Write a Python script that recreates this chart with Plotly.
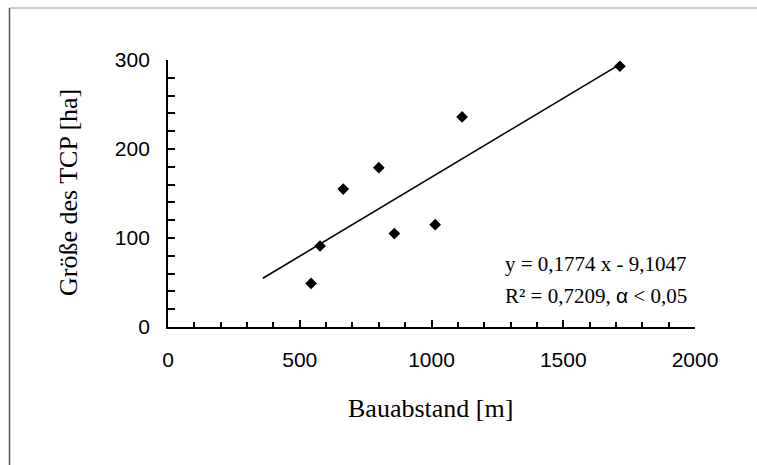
import plotly.graph_objects as go

# Data
bauabstand_m = [543, 577, 665, 800, 859, 1014, 1116, 1715]
groesse_ha = [49, 91, 155, 179, 105, 115, 236, 293]

slope = 0.1774
intercept = -9.1047
trend_x = [360, 1715]
trend_y = [slope * v + intercept for v in trend_x]

x_ticks = [0, 500, 1000, 1500, 2000]
y_ticks = [0, 100, 200, 300]

# Layout in pixels
W, H = 757, 465
L, R, T, B = 168, 62, 60, 138
pw = W - L - R
ph = H - T - B


def px2paper_x(px):
    return (px - L) / pw


def px2paper_y(py):
    return (H - B - py) / ph


fig = go.Figure()
fig.add_trace(go.Scatter(x=trend_x, y=trend_y, mode="lines",
                         line=dict(color="black", width=1.6),
                         hoverinfo="skip", showlegend=False, cliponaxis=False))
fig.add_trace(go.Scatter(x=bauabstand_m, y=groesse_ha, mode="markers",
                         marker=dict(symbol="diamond", size=9, color="black"),
                         showlegend=False, cliponaxis=False))

tickfont = dict(family="Liberation Sans, Arial", size=21, color="black")
serif = "Liberation Serif, Times New Roman"

fig.update_layout(
    width=W, height=H,
    margin=dict(l=L, r=R, t=T, b=B),
    paper_bgcolor="white", plot_bgcolor="white",
    xaxis=dict(range=[0, 2000], tickvals=x_ticks, ticks="inside", ticklen=7,
               tickwidth=1.8, tickcolor="black", showline=True, linecolor="black",
               linewidth=1.8, showgrid=False, zeroline=False, tickfont=tickfont,
               ticklabelstandoff=13,
               minor=dict(dtick=100, ticks="inside", ticklen=5, tickwidth=1.5,
                          tickcolor="black", showgrid=False)),
    yaxis=dict(range=[0, 300], tickvals=y_ticks, ticks="inside", ticklen=7,
               tickwidth=1.8, tickcolor="black", showline=True, linecolor="black",
               linewidth=1.8, showgrid=False, zeroline=False, tickfont=tickfont,
               ticklabelstandoff=12,
               minor=dict(dtick=20, ticks="inside", ticklen=7, tickwidth=1.5,
                          tickcolor="black", showgrid=False)),
    annotations=[
        dict(text="Bauabstand [m]", xref="paper", yref="paper",
             x=px2paper_x(430), y=px2paper_y(408), xanchor="center", yanchor="middle",
             showarrow=False, font=dict(family=serif, size=26, color="black")),
        dict(text="Größe des TCP [ha]", xref="paper", yref="paper",
             x=px2paper_x(68), y=px2paper_y(193), xanchor="center", yanchor="middle",
             textangle=-90, showarrow=False,
             font=dict(family=serif, size=26, color="black")),
        dict(text="y = 0,1774 x - 9,1047", xref="paper", yref="paper",
             x=px2paper_x(503), y=px2paper_y(264), xanchor="left", yanchor="middle",
             showarrow=False, font=dict(family=serif, size=21, color="black")),
        dict(text="R² = 0,7209, <span style='font-family:Liberation Sans'>α</span> < 0,05",
             xref="paper", yref="paper",
             x=px2paper_x(503), y=px2paper_y(296), xanchor="left", yanchor="middle",
             showarrow=False, font=dict(family=serif, size=21, color="black")),
    ],
    shapes=[
        dict(type="line", xref="paper", yref="paper",
             x0=px2paper_x(9.5), x1=px2paper_x(757), y0=px2paper_y(8), y1=px2paper_y(8),
             line=dict(color="#bdbdbd", width=1.5)),
        dict(type="line", xref="paper", yref="paper",
             x0=px2paper_x(9.5), x1=px2paper_x(9.5), y0=px2paper_y(8), y1=px2paper_y(465),
             line=dict(color="#555555", width=1.5)),
    ],
)

fig.write_html("out.html")
